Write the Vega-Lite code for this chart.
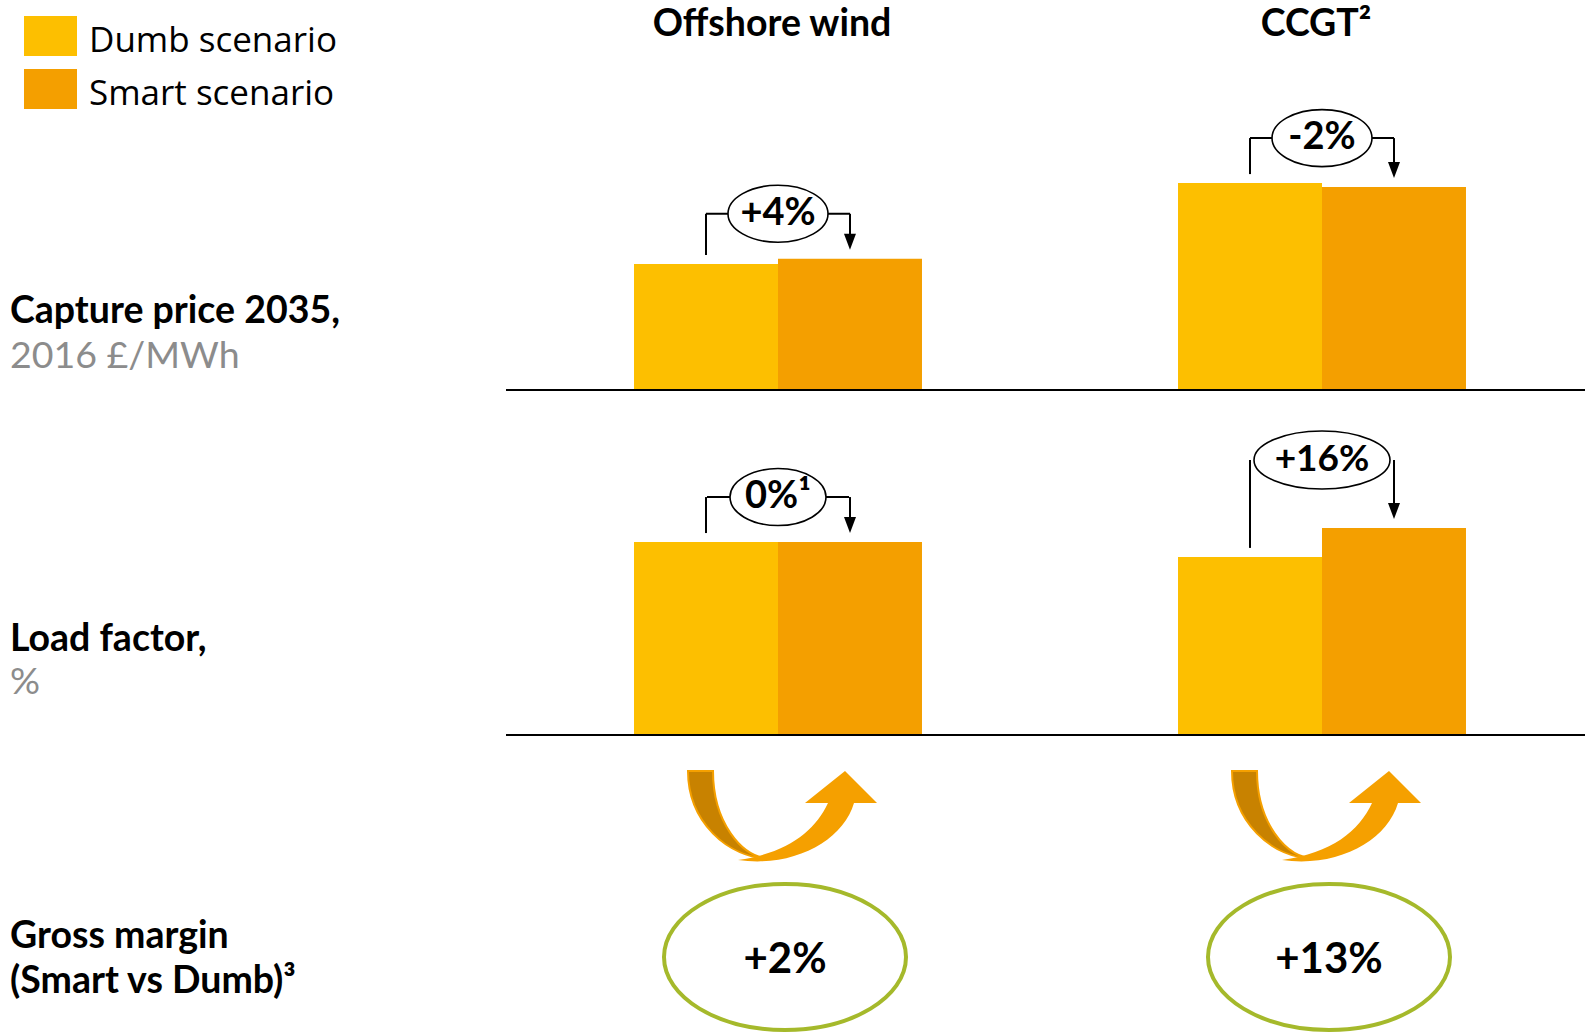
{
  "$schema": "https://vega.github.io/schema/vega-lite/v6.json",
  "width": 1585,
  "height": 1032,
  "autosize": {"type": "fit", "contains": "padding"},
  "padding": 0,
  "background": "white",
  "config": {
    "view": {"stroke": null},
    "axis": {"disable": true},
    "text": {"font": "Lato", "color": "black"}
  },
  "datasets": {
    "pairs": [
      {"metric": "Capture price", "tech": "Offshore wind", "change": "+4%", "Dumb scenario": 50.6, "Smart scenario": 52.7},
      {"metric": "Capture price", "tech": "CCGT", "change": "-2%", "Dumb scenario": 83.1, "Smart scenario": 81.5},
      {"metric": "Load factor", "tech": "Offshore wind", "change": "0%¹", "Dumb scenario": 48.0, "Smart scenario": 48.0},
      {"metric": "Load factor", "tech": "CCGT", "change": "+16%", "Dumb scenario": 44.3, "Smart scenario": 51.5}
    ],
    "margins": [
      {"tech": "Offshore wind", "change": "+2%"},
      {"tech": "CCGT", "change": "+13%"}
    ],
    "columns": [
      {"tech": "Offshore wind", "title": "Offshore wind"},
      {"tech": "CCGT", "title": "CCGT²"}
    ],
    "metrics": [
      {"metric": "Capture price", "heading": "Capture price 2035,", "unit": "2016 £/MWh"},
      {"metric": "Load factor", "heading": "Load factor,", "unit": "%"},
      {"metric": "Gross margin", "heading": ["Gross margin", "(Smart vs Dumb)³"]}
    ]
  },
  "layer": [
    {
      "layer": [
        {
          "data": {"name": "pairs"},
          "transform": [
            {"filter": "datum.metric === 'Capture price'"},
            {"fold": ["Dumb scenario", "Smart scenario"], "as": ["scenario", "value"]},
            {"joinaggregate": [{"op": "max", "field": "value", "as": "top"}], "groupby": ["tech"]}
          ],
          "layer": [
            {
              "mark": {"type": "bar"},
              "encoding": {
                "x": {"field": "tech", "type": "nominal", "axis": null,
                  "scale": {"domain": ["Metric", "Offshore wind", "CCGT"], "range": [-38, 1594], "paddingInner": 0, "paddingOuter": 0}},
                "xOffset": {"field": "scenario", "type": "nominal",
                  "scale": {"domain": ["Dumb scenario", "Smart scenario"], "paddingInner": 0, "paddingOuter": 0.889}},
                "y": {"field": "value", "type": "quantitative", "axis": null,
                  "scale": {"domain": [0, 100], "range": [390, 141], "nice": false, "zero": true}},
                "color": {"field": "scenario", "type": "nominal",
                  "scale": {"domain": ["Dumb scenario", "Smart scenario"], "range": ["#FDBF00", "#F49F00"]},
                  "legend": {"orient": "none", "legendX": 24, "legendY": 14.5, "title": null, "direction": "vertical",
                    "symbolType": "M-1,-0.945H1V0.565H-1Z", "symbolSize": 2809, "symbolStrokeWidth": 0, "symbolOpacity": 1,
                    "labelFont": "Open Sans", "labelFontSize": 35, "labelColor": "black", "labelOffset": 12,
                    "rowPadding": 8, "labelLimit": 500}}
              }
            },
            {
              "transform": [{"aggregate": [{"op": "count", "as": "n"}]}],
              "mark": {"type": "rule", "color": "black", "strokeWidth": 2},
              "encoding": {
                "x": {"datum": "Offshore wind", "type": "nominal", "bandPosition": 0},
                "x2": {"datum": "CCGT", "bandPosition": 1},
                "y": {"datum": 0, "type": "quantitative"}
              }
            },
            {
              "transform": [{"filter": "datum.scenario === 'Dumb scenario'"}],
              "mark": {"type": "rule", "color": "black", "strokeWidth": 2, "yOffset": -9, "y2Offset": -45},
              "encoding": {
                "x": {"field": "tech", "type": "nominal"},
                "xOffset": {"field": "scenario", "type": "nominal"},
                "y": {"field": "value", "type": "quantitative"},
                "y2": {"field": "top"}
              }
            },
            {
              "transform": [{"filter": "datum.scenario === 'Smart scenario'"}],
              "mark": {"type": "rule", "color": "black", "strokeWidth": 2, "yOffset": -24, "y2Offset": -45},
              "encoding": {
                "x": {"field": "tech", "type": "nominal"},
                "xOffset": {"field": "scenario", "type": "nominal"},
                "y": {"field": "value", "type": "quantitative"},
                "y2": {"field": "top"}
              }
            },
            {
              "transform": [{"filter": "datum.scenario === 'Smart scenario'"}],
              "mark": {"type": "point", "shape": "M-6,-16L6,-16L0,0Z", "size": 4, "filled": true, "color": "black", "opacity": 1, "yOffset": -9},
              "encoding": {
                "x": {"field": "tech", "type": "nominal"},
                "xOffset": {"field": "scenario", "type": "nominal"},
                "y": {"field": "value", "type": "quantitative"}
              }
            },
            {
              "transform": [{"filter": "datum.scenario === 'Smart scenario'"}],
              "mark": {"type": "rule", "color": "black", "strokeWidth": 2, "xOffset": -72, "x2Offset": 72, "yOffset": -45},
              "encoding": {
                "x": {"field": "tech", "type": "nominal"},
                "x2": {"field": "tech"},
                "y": {"field": "top", "type": "quantitative"}
              }
            },
            {
              "transform": [{"filter": "datum.scenario === 'Smart scenario'"}],
              "mark": {"type": "point", "shape": "M-50,0A50,28.5 0 1,1 50,0A50,28.5 0 1,1 -50,0Z", "size": 4, "filled": true,
                "fill": "white", "stroke": "black", "strokeWidth": 1.6, "opacity": 1, "yOffset": -45},
              "encoding": {
                "x": {"field": "tech", "type": "nominal"},
                "y": {"field": "top", "type": "quantitative"}
              }
            },
            {
              "transform": [{"filter": "datum.scenario === 'Smart scenario'"}],
              "mark": {"type": "text", "fontSize": 38, "fontWeight": "bold", "align": "center", "baseline": "middle", "yOffset": -45},
              "encoding": {
                "text": {"field": "change"},
                "x": {"field": "tech", "type": "nominal"},
                "y": {"field": "top", "type": "quantitative"}
              }
            }
          ]
        },
        {
          "data": {"name": "metrics"},
          "transform": [{"filter": "datum.metric === 'Capture price'"}],
          "layer": [
            {
              "mark": {"type": "text", "align": "left", "baseline": "alphabetic", "dx": 48, "fontSize": 37.5, "fontWeight": "bold"},
              "encoding": {
                "text": {"field": "heading"},
                "x": {"datum": "Metric", "type": "nominal", "bandPosition": 0},
                "y": {"datum": 27, "type": "quantitative"}
              }
            },
            {
              "mark": {"type": "text", "align": "left", "baseline": "alphabetic", "dx": 48, "dy": 45, "fontSize": 37.5, "color": "#8C8C8C"},
              "encoding": {
                "text": {"field": "unit"},
                "x": {"datum": "Metric", "type": "nominal", "bandPosition": 0},
                "y": {"datum": 27, "type": "quantitative"}
              }
            }
          ]
        },
        {
          "data": {"name": "columns"},
          "mark": {"type": "text", "align": "center", "baseline": "alphabetic", "dx": -6, "fontSize": 37.5, "fontWeight": "bold"},
          "encoding": {
            "text": {"field": "title"},
            "x": {"field": "tech", "type": "nominal"},
            "y": {"datum": 142, "type": "quantitative"}
          }
        }
      ]
    },
    {
      "layer": [
        {
          "data": {"name": "pairs"},
          "transform": [
            {"filter": "datum.metric === 'Load factor'"},
            {"fold": ["Dumb scenario", "Smart scenario"], "as": ["scenario", "value"]},
            {"joinaggregate": [{"op": "max", "field": "value", "as": "top"}], "groupby": ["tech"]}
          ],
          "layer": [
            {
              "mark": {"type": "bar"},
              "encoding": {
                "x": {"field": "tech", "type": "nominal"},
                "xOffset": {"field": "scenario", "type": "nominal"},
                "y": {"field": "value", "type": "quantitative", "axis": null,
                  "scale": {"domain": [0, 100], "range": [735, 333], "nice": false, "zero": true}},
                "color": {"field": "scenario", "type": "nominal"}
              }
            },
            {
              "transform": [{"aggregate": [{"op": "count", "as": "n"}]}],
              "mark": {"type": "rule", "color": "black", "strokeWidth": 2},
              "encoding": {
                "x": {"datum": "Offshore wind", "type": "nominal", "bandPosition": 0},
                "x2": {"datum": "CCGT", "bandPosition": 1},
                "y": {"datum": 0, "type": "quantitative"}
              }
            },
            {
              "transform": [{"filter": "datum.scenario === 'Dumb scenario' && datum.tech === 'Offshore wind'"}],
              "mark": {"type": "rule", "color": "black", "strokeWidth": 2, "yOffset": -9, "y2Offset": -45},
              "encoding": {
                "x": {"field": "tech", "type": "nominal"},
                "xOffset": {"field": "scenario", "type": "nominal"},
                "y": {"field": "value", "type": "quantitative"},
                "y2": {"field": "top"}
              }
            },
            {
              "transform": [{"filter": "datum.scenario === 'Smart scenario' && datum.tech === 'Offshore wind'"}],
              "mark": {"type": "rule", "color": "black", "strokeWidth": 2, "yOffset": -24, "y2Offset": -45},
              "encoding": {
                "x": {"field": "tech", "type": "nominal"},
                "xOffset": {"field": "scenario", "type": "nominal"},
                "y": {"field": "value", "type": "quantitative"},
                "y2": {"field": "top"}
              }
            },
            {
              "transform": [{"filter": "datum.scenario === 'Smart scenario' && datum.tech === 'Offshore wind'"}],
              "mark": {"type": "rule", "color": "black", "strokeWidth": 2, "xOffset": -71, "x2Offset": 71, "yOffset": -45},
              "encoding": {
                "x": {"field": "tech", "type": "nominal"},
                "x2": {"field": "tech"},
                "y": {"field": "top", "type": "quantitative"}
              }
            },
            {
              "transform": [{"filter": "datum.scenario === 'Smart scenario' && datum.tech === 'Offshore wind'"}],
              "mark": {"type": "point", "shape": "M-48,0A48,28.5 0 1,1 48,0A48,28.5 0 1,1 -48,0Z", "size": 4, "filled": true,
                "fill": "white", "stroke": "black", "strokeWidth": 1.6, "opacity": 1, "yOffset": -45},
              "encoding": {
                "x": {"field": "tech", "type": "nominal"},
                "y": {"field": "top", "type": "quantitative"}
              }
            },
            {
              "transform": [{"filter": "datum.scenario === 'Smart scenario' && datum.tech === 'Offshore wind'"}],
              "mark": {"type": "text", "fontSize": 38, "fontWeight": "bold", "align": "center", "baseline": "middle", "yOffset": -45},
              "encoding": {
                "text": {"field": "change"},
                "x": {"field": "tech", "type": "nominal"},
                "y": {"field": "top", "type": "quantitative"}
              }
            },
            {
              "transform": [{"filter": "datum.scenario === 'Dumb scenario' && datum.tech === 'CCGT'"}],
              "mark": {"type": "rule", "color": "black", "strokeWidth": 2, "yOffset": -9, "y2Offset": -68},
              "encoding": {
                "x": {"field": "tech", "type": "nominal"},
                "xOffset": {"field": "scenario", "type": "nominal"},
                "y": {"field": "value", "type": "quantitative"},
                "y2": {"field": "top"}
              }
            },
            {
              "transform": [{"filter": "datum.scenario === 'Smart scenario' && datum.tech === 'CCGT'"}],
              "mark": {"type": "rule", "color": "black", "strokeWidth": 2, "yOffset": -24, "y2Offset": -68},
              "encoding": {
                "x": {"field": "tech", "type": "nominal"},
                "xOffset": {"field": "scenario", "type": "nominal"},
                "y": {"field": "value", "type": "quantitative"},
                "y2": {"field": "top"}
              }
            },
            {
              "transform": [{"filter": "datum.scenario === 'Smart scenario'"}],
              "mark": {"type": "point", "shape": "M-6,-16L6,-16L0,0Z", "size": 4, "filled": true, "color": "black", "opacity": 1, "yOffset": -9},
              "encoding": {
                "x": {"field": "tech", "type": "nominal"},
                "xOffset": {"field": "scenario", "type": "nominal"},
                "y": {"field": "value", "type": "quantitative"}
              }
            },
            {
              "transform": [{"filter": "datum.scenario === 'Smart scenario' && datum.tech === 'CCGT'"}],
              "mark": {"type": "point", "shape": "M-68,0A68,29 0 1,1 68,0A68,29 0 1,1 -68,0Z", "size": 4, "filled": true,
                "fill": "white", "stroke": "black", "strokeWidth": 1.6, "opacity": 1, "yOffset": -68},
              "encoding": {
                "x": {"field": "tech", "type": "nominal"},
                "y": {"field": "top", "type": "quantitative"}
              }
            },
            {
              "transform": [{"filter": "datum.scenario === 'Smart scenario' && datum.tech === 'CCGT'"}],
              "mark": {"type": "text", "fontSize": 37, "fontWeight": "bold", "align": "center", "baseline": "middle", "yOffset": -68},
              "encoding": {
                "text": {"field": "change"},
                "x": {"field": "tech", "type": "nominal"},
                "y": {"field": "top", "type": "quantitative"}
              }
            }
          ]
        },
        {
          "data": {"name": "metrics"},
          "transform": [{"filter": "datum.metric === 'Load factor'"}],
          "layer": [
            {
              "mark": {"type": "text", "align": "left", "baseline": "alphabetic", "dx": 48, "fontSize": 37.5, "fontWeight": "bold"},
              "encoding": {
                "text": {"field": "heading"},
                "x": {"datum": "Metric", "type": "nominal", "bandPosition": 0},
                "y": {"datum": 21, "type": "quantitative"}
              }
            },
            {
              "mark": {"type": "text", "align": "left", "baseline": "alphabetic", "dx": 48, "dy": 43, "fontSize": 37.5, "color": "#8C8C8C"},
              "encoding": {
                "text": {"field": "unit"},
                "x": {"datum": "Metric", "type": "nominal", "bandPosition": 0},
                "y": {"datum": 21, "type": "quantitative"}
              }
            }
          ]
        }
      ]
    },
    {
      "layer": [
        {
          "data": {"name": "margins"},
          "layer": [
            {
              "mark": {"type": "point", "shape": "M-35,1C20,9 70,-18 81,-56L104,-56L72,-88L32,-56L55,-56C42,-28 15,-6 -35,1Z",
                "size": 4, "filled": true, "color": "#F5A000", "opacity": 1, "xOffset": -5},
              "encoding": {
                "x": {"field": "tech", "type": "nominal"},
                "y": {"datum": "swap", "type": "nominal", "axis": null,
                  "scale": {"type": "point", "domain": ["swap", "margin"], "range": [859, 957], "padding": 0}}
              }
            },
            {
              "mark": {"type": "point", "shape": "M-85,-88L-60,-88C-60,-39 -33,0 0,0C-47,0 -85,-39 -85,-88Z",
                "size": 4, "filled": true, "fill": "#C88200", "stroke": "#F5A000", "strokeWidth": 2, "opacity": 1, "xOffset": -5},
              "encoding": {
                "x": {"field": "tech", "type": "nominal"},
                "y": {"datum": "swap", "type": "nominal"}
              }
            },
            {
              "mark": {"type": "point", "shape": "M-121,0A121,73 0 1,1 121,0A121,73 0 1,1 -121,0Z",
                "size": 4, "filled": true, "fill": "white", "stroke": "#A5B92B", "strokeWidth": 4, "opacity": 1, "xOffset": 7},
              "encoding": {
                "x": {"field": "tech", "type": "nominal"},
                "y": {"datum": "margin", "type": "nominal"}
              }
            },
            {
              "mark": {"type": "text", "fontSize": 42, "fontWeight": "bold", "align": "center", "baseline": "middle", "xOffset": 7, "yOffset": 3},
              "encoding": {
                "text": {"field": "change"},
                "x": {"field": "tech", "type": "nominal"},
                "y": {"datum": "margin", "type": "nominal"}
              }
            }
          ]
        },
        {
          "data": {"name": "metrics"},
          "transform": [{"filter": "datum.metric === 'Gross margin'"}],
          "mark": {"type": "text", "align": "left", "baseline": "alphabetic", "dx": 48, "yOffset": -9, "lineHeight": 45, "fontSize": 37.5, "fontWeight": "bold"},
          "encoding": {
            "text": {"field": "heading"},
            "x": {"datum": "Metric", "type": "nominal", "bandPosition": 0},
            "y": {"datum": "margin", "type": "nominal"}
          }
        }
      ]
    }
  ],
  "resolve": {"scale": {"y": "independent"}}
}
